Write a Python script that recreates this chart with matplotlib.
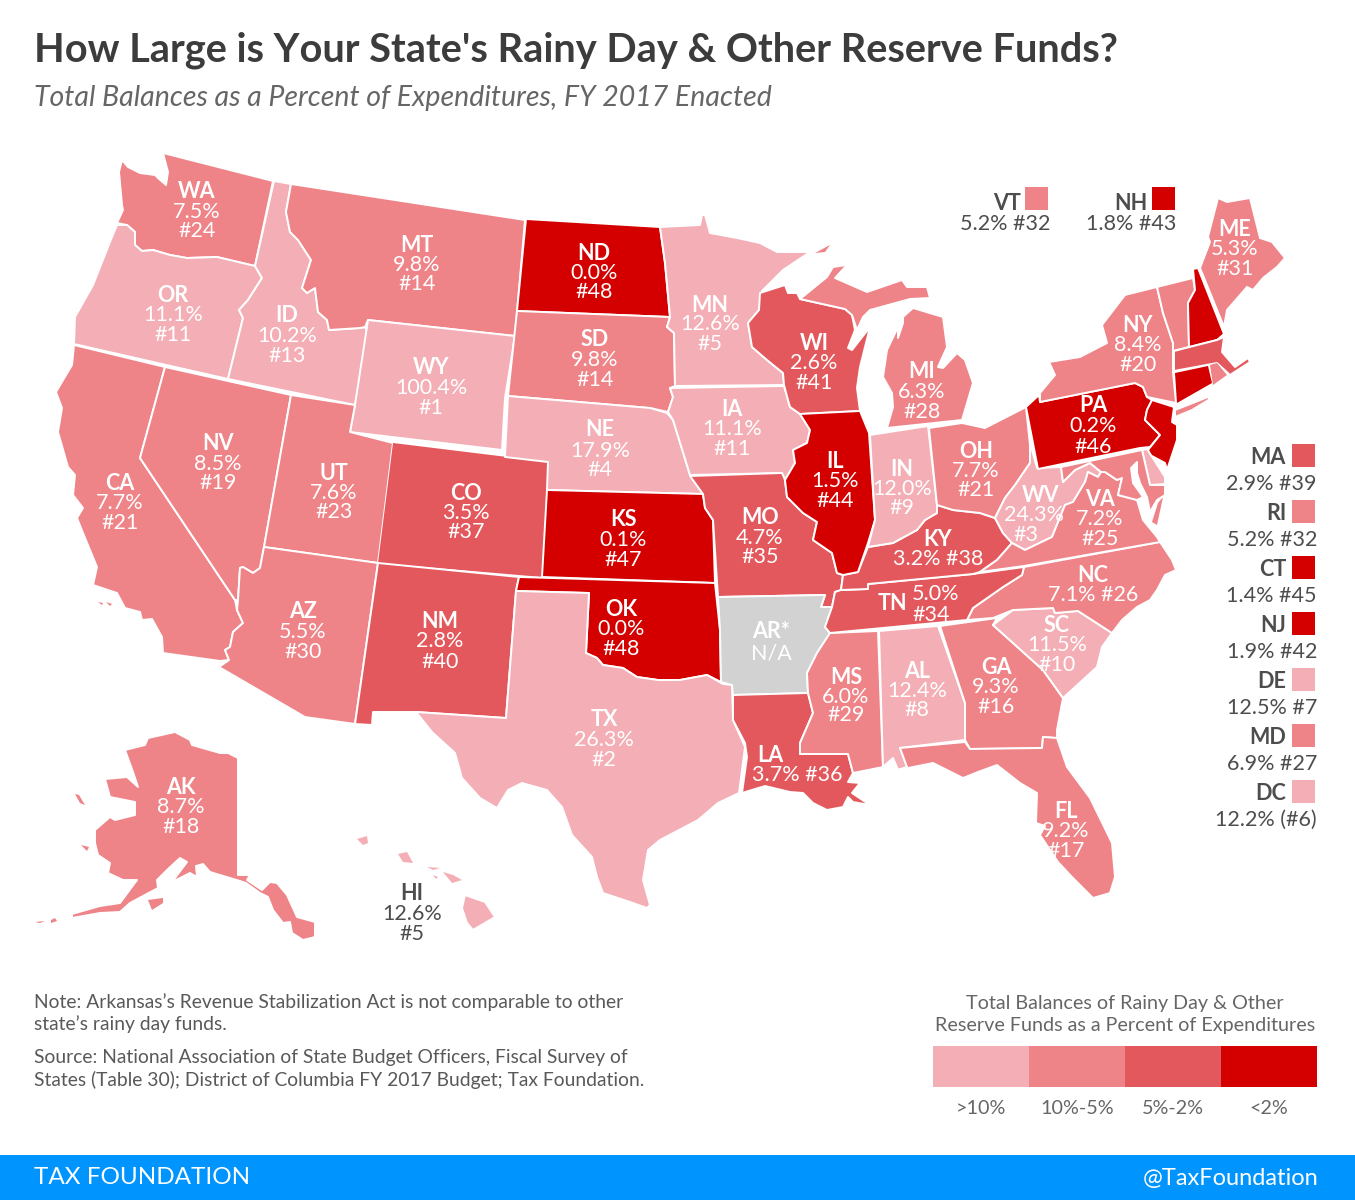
import matplotlib
matplotlib.use("Agg")
import matplotlib.pyplot as plt
from matplotlib.patches import Polygon, Rectangle

plt.rcParams['font.family'] = ['Lato', 'DejaVu Sans']

# state values
states = ["WA","OR","CA","NV","ID","MT","WY","UT","AZ","CO","NM","ND","SD","NE","KS","OK","TX","MN","IA","MO",
          "LA","MS","AL","GA","FL","SC","NC","TN","KY","WI","IL","IN","MI","OH","WV","VA","PA","NY","ME","VT",
          "NH","MA","RI","CT","NJ","DE","MD","DC","AK","HI"]
balances = [7.5,11.1,7.7,8.5,10.2,9.8,100.4,7.6,5.5,3.5,2.8,0.0,9.8,17.9,0.1,0.0,26.3,12.6,11.1,4.7,
            3.7,6.0,12.4,9.3,9.2,11.5,7.1,5.0,3.2,2.6,1.5,12.0,6.3,7.7,24.3,7.2,0.2,8.4,5.3,5.2,
            1.8,2.9,5.2,1.4,1.9,12.5,6.9,12.2,8.7,12.6]
ranks = [24,11,21,19,13,14,1,23,30,37,40,48,14,4,47,48,2,5,11,35,
         36,29,8,16,17,10,26,34,38,41,44,9,28,21,3,25,46,20,31,32,
         43,39,32,45,42,7,27,6,18,5]

legend_labels = [">10%", "10%-5%", "5%-2%", "<2%"]
bin_colors = ["#F4AEB5", "#EE8388", "#E3585C", "#D40000"]
na_color = "#D2D2D2"
gray_text = "#4D4D4D"

# state outlines, pixel coords
shapes = {
"WA": [[(122,160),(128,167),(140,173),(155,175),(158,178),(166,185),(168,172),(163,153),(273,181),(255,266),(217,257),(187,258),(170,255),(153,250),(142,251),(135,245),(135,232),(127,225),(117,223),(123,210),(122,205),(119,172)]],
"OR": [[(117,225),(127,225),(135,232),(135,245),(142,251),(153,250),(170,255),(187,258),(217,257),(255,266),(262,278),(248,300),(239,310),(243,318),(228,379),(74,344),(75,317),(93,285),(110,242)]],
"CA": [[(74,345),(165,367),(140,458),(235,600),(237,610),(243,623),(233,632),(230,647),(225,650),(229,660),(220,661),(163,653),(162,637),(152,619),(142,620),(140,612),(125,608),(117,593),(93,585),(97,567),(83,533),(77,518),(83,508),(73,495),(75,475),(68,467),(58,432),(62,408),(56,392),(72,365)],
       [(98,602),(103,603),(102,605)],[(106,602),(112,604),(110,606)]],
"NV": [[(165,367),(291,395),(264,547),(260,568),(253,573),(243,567),(240,568),(238,600),(235,600),(140,458)]],
"ID": [[(274,181),(291,184),(286,212),(290,232),(298,240),(311,260),(302,288),(307,293),(315,288),(318,312),(327,320),(329,330),(360,328),(365,327),(368,333),(355,405),(228,379),(243,318),(239,310),(248,300),(262,278),(255,266)]],
"MT": [[(291,184),(525,220),(515,336),(368,320),(365,327),(360,328),(329,330),(327,320),(318,312),(315,288),(307,293),(302,288),(311,260),(298,240),(290,232),(286,212)]],
"WY": [[(368,320),(515,336),(505,398),(502,450),(350,432),(355,405)]],
"UT": [[(291,395),(355,405),(350,432),(393,443),(378,563),(264,547)]],
"AZ": [[(264,547),(378,563),(355,724),(305,717),(219,667),(229,660),(225,650),(230,647),(233,632),(243,623),(237,610),(238,600),(240,568),(243,567),(253,573),(260,568)]],
"CO": [[(393,443),(548,462),(542,577),(378,563)]],
"NM": [[(378,563),(519,577),(516,591),(506,718),(416,712),(373,712),(372,725),(355,724)]],
"ND": [[(526,219),(660,227),(665,263),(670,317),(517,311)]],
"SD": [[(517,311),(670,317),(667,327),(674,333),(675,386),(670,388),(673,397),(668,412),(650,408),(508,396)]],
"NE": [[(508,396),(650,408),(667,413),(673,420),(690,475),(703,494),(547,490),(548,462),(505,457)]],
"KS": [[(547,490),(703,494),(705,508),(713,520),(715,583),(542,577)]],
"OK": [[(519,577),(715,583),(720,630),(721,682),(707,675),(680,680),(658,680),(637,677),(623,668),(603,665),(597,658),(586,653),(589,593),(516,591)]],
"TX": [[(516,591),(589,593),(586,653),(597,658),(603,665),(623,668),(637,677),(658,680),(680,680),(707,675),(723,684),(732,685),(733,720),(745,747),(742,770),(739,793),(718,803),(698,820),(660,840),(648,850),(643,880),(650,905),(647,908),(630,902),(603,893),(597,877),(592,857),(572,835),(562,807),(547,790),(522,783),(508,790),(497,808),(480,798),(462,778),(455,753),(432,732),(416,712),(506,718)]],
"MN": [[(660,227),(700,225),(702,215),(705,215),(710,233),(737,238),(760,243),(777,252),(810,252),(783,270),(762,291),(759,310),(748,323),(752,347),(767,360),(783,373),(784,385),(675,386),(674,333),(667,327),(670,317),(665,263)]],
"IA": [[(670,388),(784,386),(788,400),(790,407),(800,414),(810,430),(807,443),(793,450),(795,463),(785,480),(782,473),(690,475),(673,420),(668,412),(673,397)]],
"MO": [[(690,476),(782,473),(785,480),(787,497),(803,513),(817,522),(813,540),(832,553),(837,573),(843,575),(841,590),(835,592),(832,607),(821,607),(825,595),(718,597),(713,520),(705,508),(703,494)]],
"AR": [[(718,597),(825,595),(821,607),(832,607),(825,627),(830,633),(817,653),(807,673),(808,693),(733,695),(732,685),(721,682),(720,630)]],
"LA": [[(733,695),(808,693),(813,713),(800,743),(800,754),(848,754),(853,773),(848,782),(860,783),(852,793),(870,805),(853,802),(848,797),(843,807),(827,810),(813,803),(803,793),(790,792),(765,786),(742,793),(747,757),(745,743),(733,720)]],
"MS": [[(830,633),(878,631),(883,767),(853,773),(848,754),(800,754),(800,743),(813,713),(808,693),(807,673),(817,653)]],
"AL": [[(879,631),(938,626),(965,703),(965,740),(900,748),(907,767),(898,770),(893,758),(883,767)]],
"GA": [[(940,626),(997,618),(993,625),(1013,643),(1043,670),(1063,698),(1057,730),(1057,738),(1043,737),(1042,748),(970,749),(965,740),(965,703)]],
"FL": [[(900,748),(965,742),(970,749),(1042,748),(1043,737),(1057,738),(1067,767),(1090,798),(1112,843),(1115,877),(1110,893),(1093,898),(1072,877),(1058,862),(1040,835),(1045,826),(1036,823),(1037,793),(1020,783),(997,765),(978,772),(963,778),(933,763),(898,770),(907,767)]],
"SC": [[(993,625),(1013,610),(1053,608),(1055,613),(1078,611),(1112,633),(1102,647),(1097,667),(1063,698),(1043,670),(1013,643)]],
"NC": [[(967,620),(973,608),(1003,587),(1022,575),(1024,567),(1160,542),(1172,560),(1176,570),(1165,575),(1157,590),(1150,600),(1137,607),(1122,620),(1112,633),(1078,611),(1055,613),(1053,608),(1013,610),(993,618)]],
"TN": [[(835,592),(841,590),(868,589),(868,584),(973,574),(1024,567),(1022,575),(1003,587),(973,608),(967,620),(830,633),(825,627),(832,607)]],
"KY": [[(841,590),(843,575),(858,572),(868,547),(893,543),(917,530),(925,520),(937,513),(937,505),(953,510),(980,513),(995,518),(1003,533),(1012,543),(997,560),(980,572),(973,574),(868,584),(868,589)]],
"WI": [[(760,293),(785,285),(788,293),(797,293),(800,299),(845,309),(852,315),(855,330),(848,348),(852,350),(870,327),(860,367),(857,388),(860,411),(800,414),(790,407),(788,400),(784,385),(783,373),(767,360),(752,347),(748,323),(759,310)]],
"IL": [[(800,414),(860,411),(869,433),(875,520),(868,543),(858,572),(843,575),(837,573),(832,553),(813,540),(817,522),(803,513),(787,497),(785,480),(795,463),(793,450),(807,443),(810,430)]],
"IN": [[(870,435),(928,426),(937,505),(937,513),(925,520),(917,530),(893,543),(868,547),(875,520)]],
"MI": [[(800,299),(827,277),(833,267),(847,265),(835,278),(867,292),(902,280),(907,287),(927,287),(930,298),(910,299),(870,310),(863,317),(857,330),(852,315),(845,309)],
       [(913,308),(943,317),(947,347),(938,367),(943,368),(957,353),(965,360),(973,383),(962,420),(887,428),(893,407),(892,393),(883,377),(887,350),(898,327),(898,338),(903,323),(903,317)],
       [(815,253),(830,245),(825,252)]],
"OH": [[(929,428),(962,423),(985,428),(1026,407),(1030,445),(1030,463),(1015,485),(1005,498),(995,518),(980,513),(953,510),(937,505)]],
"WV": [[(1030,443),(1037,468),(1061,467),(1063,482),(1075,470),(1090,463),(1101,472),(1098,477),(1088,472),(1085,482),(1073,502),(1065,505),(1052,537),(1025,550),(1012,543),(1003,533),(995,518),(1005,498),(1015,485),(1030,463)]],
"VA": [[(1088,472),(1098,477),(1101,472),(1105,472),(1117,480),(1122,478),(1118,495),(1137,500),(1143,520),(1157,537),(1160,542),(1024,566),(980,572),(997,560),(1012,543),(1025,550),(1052,537),(1065,505),(1073,502),(1085,482)],
       [(1163,497),(1157,525),(1152,522),(1158,503)]],
"PA": [[(1026,407),(1039,395),(1040,402),(1135,383),(1143,387),(1147,397),(1152,400),(1147,410),(1145,420),(1160,435),(1150,447),(1140,448),(1038,469)]],
"NY": [[(1040,393),(1055,375),(1049,362),(1080,357),(1107,343),(1102,325),(1125,295),(1157,287),(1163,313),(1173,343),(1173,372),(1176,403),(1152,398),(1147,397),(1143,387),(1135,383),(1040,402)],
       [(1175,410),(1208,397),(1210,399),(1192,410),(1175,417)]],
"ME": [[(1200,268),(1210,242),(1208,237),(1218,198),(1227,202),(1250,198),(1260,238),(1272,242),(1285,258),(1277,267),(1263,278),(1253,290),(1247,287),(1227,310),(1224,327)]],
"VT": [[(1157,287),(1193,278),(1195,290),(1188,303),(1189,347),(1173,351),(1173,343),(1163,313)]],
"NH": [[(1193,269),(1198,268),(1224,334),(1217,340),(1189,347),(1188,303),(1195,290)]],
"MA": [[(1174,351),(1217,340),(1224,337),(1222,352),(1235,367),(1248,358),(1250,362),(1230,375),(1217,363),(1174,371)]],
"RI": [[(1210,365),(1217,363),(1227,375),(1213,385)]],
"CT": [[(1175,373),(1208,366),(1212,383),(1177,403)]],
"NJ": [[(1152,400),(1174,407),(1172,422),(1177,425),(1177,440),(1167,470),(1165,463),(1150,455),(1148,450),(1160,435),(1145,420),(1147,410)]],
"DE": [[(1142,450),(1147,449),(1165,477),(1165,484),(1150,485)]],
"MD": [[(1061,467),(1142,450),(1150,485),(1165,485),(1165,495),(1157,500),(1150,512),(1147,497),(1140,483),(1137,473),(1137,462),(1131,468),(1133,483),(1143,497),(1137,500),(1118,495),(1122,478),(1117,480),(1105,472),(1101,472),(1090,463),(1075,470),(1063,482)]],
"AK": [[(125,750),(145,745),(148,738),(175,732),(190,740),(192,745),(220,753),(228,753),(238,758),(238,875),(250,875),(247,880),(262,890),(270,882),(277,883),(287,895),(297,917),(315,922),(315,937),(303,940),(292,933),(290,922),(283,923),(273,910),(268,897),(260,893),(246,883),(240,881),(210,872),(203,864),(196,866),(197,877),(190,873),(172,882),(187,862),(180,858),(167,870),(157,880),(158,888),(130,903),(120,912),(100,913),(72,918),(72,914),(100,906),(120,903),(137,880),(123,880),(108,873),(110,863),(98,855),(95,843),(95,830),(110,817),(115,820),(135,815),(135,802),(110,797),(105,779),(127,777),(138,787),(133,772)],
       [(148,900),(163,898),(163,903),(152,910)],
       [(75,794),(79,795),(85,805),(80,803)],
       [(81,845),(89,847),(87,851)],
       [(35,922),(45,921),(40,923)],
       [(51,920),(55,918),(57,921),(51,923)]],
"HI": [[(465,895),(485,902),(495,917),(473,930),(467,923),(462,908)],
       [(443,872),(453,875),(462,880),(452,883)],
       [(407,852),(413,863),(403,862),(398,854)],
       [(357,839),(367,836),(368,843),(363,845)],
       [(427,867),(440,868),(433,870)],
       [(433,875),(438,877),(436,879)]],
}
ar_shape = "AR"

# name, value and rank line positions
label_pos = {
"WA":(197,190,210,229),"OR":(173,293,313,333),"CA":(120,482,501,521),"NV":(218,442,462,481),"ID":(287,314,334,354),
"MT":(417,243,263,282),"WY":(431,366,386,406),"UT":(334,472,491,510),"AZ":(303,610,630,650),"CO":(466,491,511,530),
"NM":(440,620,639,660),"ND":(594,251,271,290),"SD":(595,338,358,378),"NE":(600,428,449,468),"KS":(623,518,538,558),
"OK":(621,607,627,647),"TX":(604,718,738,758),"MN":(710,303,322,342),"IA":(732,408,427,447),"MO":(760,516,536,555),
"MS":(846,675,695,713),"AL":(917,670,689,708),"GA":(996,666,685,705),"FL":(1066,809,829,849),"SC":(1057,624,643,663),
"WI":(814,341,361,381),"IL":(835,459,479,499),"IN":(902,467,487,506),"MI":(922,370,390,410),"OH":(976,449,469,488),
"VA":(1100,497,517,537),"PA":(1093,404,424,445),"NY":(1138,323,343,363),"ME":(1235,227,247,267),"AK":(181,785,805,825),
}
oneline_pos = {"LA":(770,753,797,773),"KY":(938,538,938,557),"NC":(1093,573,1093,593)}
# legend style entries beside the map
side_top = {"VT":(1021,1050,201,222,1025),"NH":(1147,1176,201,222,1152)}
side_list = ["MA","RI","CT","NJ","DE","MD","DC"]

def bin_color(v):
    if v > 10:
        return bin_colors[0]
    if v > 5:
        return bin_colors[1]
    if v >= 2:
        return bin_colors[2]
    return bin_colors[3]

fig = plt.figure(figsize=(13.55, 12.01), dpi=100)
ax = fig.add_axes([0, 0, 1, 1])
ax.set_xlim(0, 1355)
ax.set_ylim(1201, 0)
ax.axis("off")

value_of = dict(zip(states, balances))
rank_of = dict(zip(states, ranks))

def txt(x, y, s, color="white", fs=15.5, ha="center", **kw):
    # lato sits a bit high with va=center
    ax.text(x, y + 2, s, color=color, fontsize=fs, ha=ha, va="center", **kw)

for st in shapes:
    color = na_color if st == ar_shape else bin_color(value_of[st])
    for ring in shapes[st]:
        # tiny islands get no outline or they vanish
        lw = 1.4 if len(ring) > 4 else 0
        ax.add_patch(Polygon(ring, closed=True, facecolor=color, edgecolor="white", linewidth=lw, joinstyle="round"))

for st, (x, y1, y2, y3) in label_pos.items():
    txt(x, y1, st, fontweight="bold")
    txt(x, y2, "%.1f%%" % value_of[st])
    txt(x, y3, "#%d" % rank_of[st])

for st, (x1, y1, x2, y2) in oneline_pos.items():
    txt(x1, y1, st, fontweight="bold")
    txt(x2, y2, "%.1f%% #%d" % (value_of[st], rank_of[st]))

txt(892, 602, "TN", fontweight="bold")
txt(936, 592, "%.1f%%" % value_of["TN"])
txt(931, 613, "#%d" % rank_of["TN"])

# WV steps sideways down the state
txt(1041, 493, "WV", fontweight="bold")
txt(1034, 513, "%.1f%%" % value_of["WV"])
txt(1026, 533, "#%d" % rank_of["WV"])

txt(771, 629, "AR*", fontweight="bold")
txt(771, 651, "N/A")

txt(412, 892, "HI", color=gray_text, fontweight="bold")
txt(412, 912, "%.1f%%" % value_of["HI"], color=gray_text)
txt(412, 932, "#%d" % rank_of["HI"], color=gray_text)

for st, (xn, xv, yn, yv, xs) in side_top.items():
    ax.add_patch(Rectangle((xs, 187), 23, 23, facecolor=bin_color(value_of[st]), edgecolor="none"))
    txt(xn, yn, st, color=gray_text, ha="right", fontweight="bold")
    txt(xv, yv, "%.1f%% #%d" % (value_of[st], rank_of[st]), color=gray_text, ha="right")

for i, st in enumerate(side_list):
    y = 456 + 56 * i
    ax.add_patch(Rectangle((1292, y - 12), 23, 23, facecolor=bin_color(value_of[st]), edgecolor="none"))
    txt(1286, y, st, color=gray_text, ha="right", fontweight="bold")
    if st == "DC":
        s = "%.1f%% (#%d)" % (value_of[st], rank_of[st])
    else:
        s = "%.1f%% #%d" % (value_of[st], rank_of[st])
    txt(1317, y + 26, s, color=gray_text, ha="right")

# headings
txt(34, 48, "How Large is Your State's Rainy Day & Other Reserve Funds?", color="#3C3C3C", fs=28.6, ha="left", fontweight="bold")
txt(34, 96, "Total Balances as a Percent of Expenditures, FY 2017 Enacted", color="#666666", fs=20.5, ha="left", style="italic")

# notes
note_color = "#595959"
txt(34, 1000, "Note: Arkansas\u2019s Revenue Stabilization Act is not comparable to other", color=note_color, fs=13.9, ha="left")
txt(34, 1022, "state\u2019s rainy day funds.", color=note_color, fs=13.9, ha="left")
txt(34, 1055, "Source: National Association of State Budget Officers, Fiscal Survey of", color=note_color, fs=13.9, ha="left")
txt(34, 1078, "States (Table 30); District of Columbia FY 2017 Budget; Tax Foundation.", color=note_color, fs=13.9, ha="left")

# colour key
txt(1125, 1001, "Total Balances of Rainy Day & Other", color="#666666", fs=14.2)
txt(1125, 1024, "Reserve Funds as a Percent of Expenditures", color="#666666", fs=14.2)
for i, lab in enumerate(legend_labels):
    ax.add_patch(Rectangle((933 + 96 * i, 1046), 96, 41, facecolor=bin_colors[i], edgecolor="none"))
label_x = [981, 1077, 1173, 1269]
for x, lab in zip(label_x, legend_labels):
    txt(x, 1106, lab, color="#666666", fs=14.2)

# footer band
ax.add_patch(Rectangle((0, 1155), 1355, 45, facecolor="#0094FF", edgecolor="none"))
txt(34, 1176, "TAX FOUNDATION", fs=17.5, ha="left")
txt(1319, 1176, "@TaxFoundation", fs=17, ha="right")

fig.savefig("out.png", dpi=100)
